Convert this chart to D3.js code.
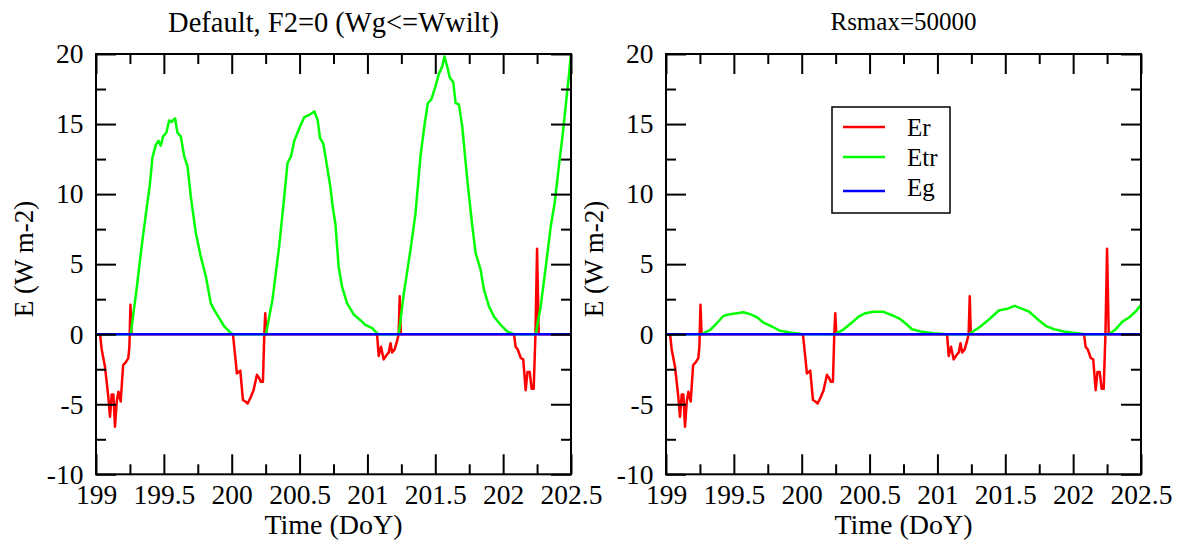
<!DOCTYPE html>
<html>
<head>
<meta charset="utf-8">
<script src="https://cdn.jsdelivr.net/npm/d3@7"></script>
<style>
  body { margin: 0; background: #fff; }
  svg { display: block; }
  text { font-family: "Liberation Serif", "DejaVu Serif", serif; fill: #000; }
</style>
</head>
<body>
<div id="container"></div>
<script>
let w = 1179;
let h = 545;

// ---- data ----
// Er is the same in both runs
let erTime = [199.0, 199.03, 199.042, 199.066, 199.091, 199.103, 199.116, 199.128, 199.14, 199.153, 199.165, 199.182, 199.2, 199.22, 199.238, 199.246, 199.254, 199.262,
  200.009, 200.026, 200.038, 200.05, 200.063, 200.083, 200.1, 200.117, 200.14, 200.161, 200.186, 200.2, 200.215, 200.23, 200.24, 200.247, 200.255,
  201.071, 201.083, 201.1, 201.12, 201.14, 201.157, 201.17, 201.182, 201.2, 201.218, 201.23, 201.238, 201.246,
  202.08, 202.092, 202.108, 202.13, 202.148, 202.166, 202.179, 202.196, 202.21, 202.225, 202.238, 202.25, 202.262, 202.5];
let erValue = [0, 0, -1.1, -2.3, -4.5, -5.9, -4.3, -4.3, -6.6, -4.8, -4.1, -4.8, -2.2, -2.0, -1.7, -0.9, 2.1, 0,
  0, -1.6, -2.8, -2.7, -2.6, -4.7, -4.8, -4.95, -4.5, -4.0, -2.9, -3.1, -3.4, -3.4, 0, 1.5, 0,
  0, -1.55, -0.9, -1.8, -1.5, -1.3, -0.65, -1.3, -1.1, -0.5, 0, 2.7, 0,
  0, -0.9, -1.1, -1.7, -1.8, -4.0, -2.7, -2.7, -3.9, -3.9, 0, 6.1, 0, 0];

// Etr, default run
let etrDefaultTime = [199.0, 199.256, 199.30, 199.342, 199.379, 199.396, 199.416, 199.44, 199.46, 199.477, 199.494, 199.519, 199.539, 199.558, 199.57, 199.583, 199.6, 199.625, 199.65, 199.674, 199.699, 199.736, 199.773, 199.81, 199.846, 199.871, 199.908, 199.945, 199.994, 200.01,
  200.252, 200.30, 200.35, 200.387, 200.411, 200.437, 200.461, 200.498, 200.535, 200.572, 200.609, 200.633, 200.651, 200.675, 200.707, 200.727, 200.744, 200.764, 200.788, 200.813, 200.85, 200.9, 200.948, 200.985, 201.035, 201.07, 201.08,
  201.231, 201.268, 201.317, 201.354, 201.391, 201.421, 201.445, 201.47, 201.502, 201.527, 201.551, 201.568, 201.588, 201.607, 201.632, 201.65, 201.674, 201.699, 201.736, 201.773, 201.797, 201.834, 201.858, 201.895, 201.932, 201.982, 202.031, 202.08,
  202.24, 202.277, 202.314, 202.351, 202.38, 202.412, 202.437, 202.461, 202.486, 202.5];
let etrDefaultValue = [0, 0, 3.3, 6.7, 9.4, 10.6, 12.6, 13.5, 13.8, 13.45, 14.1, 14.4, 15.26, 15.15, 15.3, 15.4, 14.4, 14.1, 12.7, 12.0, 9.8, 7.2, 5.5, 4.1, 2.2, 1.74, 1.14, 0.55, 0.07, 0,
  0, 2.45, 6.3, 9.8, 12.2, 12.7, 13.8, 14.7, 15.5, 15.66, 15.9, 15.3, 14.0, 13.6, 11.7, 10.5, 9.1, 7.9, 4.8, 3.4, 2.2, 1.4, 1.0, 0.66, 0.43, 0.07, 0,
  0, 2.9, 6.0, 8.6, 12.7, 14.95, 16.5, 16.74, 17.7, 18.6, 19.1, 19.83, 19.1, 18.3, 18.0, 16.5, 16.4, 14.8, 11.0, 7.7, 5.8, 4.6, 3.2, 2.0, 1.26, 0.66, 0.19, 0,
  0, 2.0, 4.8, 7.7, 9.4, 12.1, 14.1, 16.3, 18.6, 20.0];

// Etr, Rsmax=50000 run
let etrRsTime = [199.0, 199.263, 199.325, 199.374, 199.423, 199.472, 199.522, 199.57, 199.62, 199.67, 199.718, 199.78, 199.841, 199.915, 200.0,
  200.247, 200.309, 200.37, 200.42, 200.469, 200.53, 200.604, 200.678, 200.727, 200.764, 200.813, 200.875, 200.97, 201.07,
  201.231, 201.317, 201.39, 201.452, 201.514, 201.568, 201.625, 201.674, 201.736, 201.797, 201.858, 201.932, 202.03, 202.09,
  202.264, 202.314, 202.363, 202.412, 202.461, 202.5];
let etrRsValue = [0, 0, 0.3, 0.78, 1.3, 1.43, 1.5, 1.57, 1.43, 1.21, 0.83, 0.55, 0.24, 0.12, 0.02,
  0, 0.35, 0.83, 1.26, 1.5, 1.6, 1.6, 1.3, 1.07, 0.78, 0.35, 0.19, 0.07, 0,
  0, 0.55, 1.14, 1.69, 1.81, 2.02, 1.81, 1.62, 1.09, 0.6, 0.36, 0.19, 0.07, 0,
  0, 0.36, 0.9, 1.19, 1.62, 2.1];

// Eg, zero in both runs
let egTime = [199.0, 202.5];
let egValue = [0, 0];

let xMajor = [199, 199.5, 200, 200.5, 201, 201.5, 202, 202.5];
let xMinor = [199.25, 199.75, 200.25, 200.75, 201.25, 201.75, 202.25];
let yMajor = [-10, -5, 0, 5, 10, 15, 20];
let yMinor = [-7.5, -2.5, 2.5, 7.5, 12.5, 17.5];

let seriesNames = ["Er", "Etr", "Eg"];
let seriesColors = ["#ff0000", "#00ff00", "#0000ff"];

let serif = '"Liberation Serif", "DejaVu Serif", serif';

function zip(ts, vs) {
  return ts.map((t, i) => ({t: t, v: vs[i]}));
}

let panels = [
  {title: "Default, F2=0 (Wg<=Wwilt)", titleSize: 28.5, titleY: 32, left: 96, series: [zip(erTime, erValue), zip(etrDefaultTime, etrDefaultValue), zip(egTime, egValue)], legend: false},
  {title: "Rsmax=50000", titleSize: 25, titleY: 30, left: 666, series: [zip(erTime, erValue), zip(etrRsTime, etrRsValue), zip(egTime, egValue)], legend: true}
];

let plotW = 475;
let plotTop = 54;
let plotBottom = 474.3;

let viz = d3.select("#container").append("svg")
    .attr("width", w)
    .attr("height", h)
    .style("background-color", "white");

panels.forEach(function(p) {
  let xScale = d3.scaleLinear().domain([199, 202.5]).range([p.left, p.left + plotW]);
  let yScale = d3.scaleLinear().domain([-10, 20]).range([plotBottom, plotTop]);

  let g = viz.append("g").attr("class", "panel");

  // data lines
  let line = d3.line().x(d => xScale(d.t)).y(d => yScale(d.v));
  p.series.forEach(function(s, i) {
    g.append("path")
      .datum(s)
      .attr("d", line)
      .attr("fill", "none")
      .attr("stroke", seriesColors[i])
      .attr("stroke-width", 2.5)
      .attr("stroke-linejoin", "round");
  });

  // frame
  g.append("rect")
    .attr("x", p.left).attr("y", plotTop)
    .attr("width", plotW).attr("height", plotBottom - plotTop)
    .attr("fill", "none").attr("stroke", "#000").attr("stroke-width", 2);

  // axes, ticks pointing inward on all four sides
  function styleAxis(sel) {
    sel.attr("font-family", null);
    sel.select(".domain").remove();
    sel.selectAll("line").attr("stroke", "#000").attr("stroke-width", 2);
    sel.selectAll("text").style("font-family", serif).style("font-size", "27.5px").attr("fill", "#000");
  }

  g.append("g").attr("transform", "translate(0," + plotBottom + ")")
    .call(d3.axisBottom(xScale).tickValues(xMajor).tickSizeInner(-20).tickSizeOuter(0).tickPadding(10).tickFormat(d => String(d)))
    .call(styleAxis);
  g.append("g").attr("transform", "translate(0," + plotBottom + ")")
    .call(d3.axisBottom(xScale).tickValues(xMinor).tickSizeInner(-10).tickSizeOuter(0).tickFormat(""))
    .call(styleAxis);
  g.append("g").attr("transform", "translate(0," + plotTop + ")")
    .call(d3.axisTop(xScale).tickValues(xMajor).tickSizeInner(-20).tickSizeOuter(0).tickFormat(""))
    .call(styleAxis);
  g.append("g").attr("transform", "translate(0," + plotTop + ")")
    .call(d3.axisTop(xScale).tickValues(xMinor).tickSizeInner(-10).tickSizeOuter(0).tickFormat(""))
    .call(styleAxis);

  g.append("g").attr("transform", "translate(" + p.left + ",0)")
    .call(d3.axisLeft(yScale).tickValues(yMajor).tickSizeInner(-20).tickSizeOuter(0).tickPadding(12.5).tickFormat(d => String(d)))
    .call(styleAxis);
  g.append("g").attr("transform", "translate(" + p.left + ",0)")
    .call(d3.axisLeft(yScale).tickValues(yMinor).tickSizeInner(-10).tickSizeOuter(0).tickFormat(""))
    .call(styleAxis);
  g.append("g").attr("transform", "translate(" + (p.left + plotW) + ",0)")
    .call(d3.axisRight(yScale).tickValues(yMajor).tickSizeInner(-20).tickSizeOuter(0).tickFormat(""))
    .call(styleAxis);
  g.append("g").attr("transform", "translate(" + (p.left + plotW) + ",0)")
    .call(d3.axisRight(yScale).tickValues(yMinor).tickSizeInner(-10).tickSizeOuter(0).tickFormat(""))
    .call(styleAxis);

  // titles
  g.append("text")
    .text(p.title)
    .attr("x", p.left + plotW / 2)
    .attr("y", p.titleY)
    .attr("text-anchor", "middle")
    .style("font-family", serif)
    .style("font-size", p.titleSize + "px");

  g.append("text")
    .text("Time (DoY)")
    .attr("x", p.left + plotW / 2)
    .attr("y", 534)
    .attr("text-anchor", "middle")
    .style("font-family", serif)
    .style("font-size", "28px");

  g.append("text")
    .text("E (W m-2)")
    .attr("text-anchor", "middle")
    .attr("transform", "translate(" + (p.left - 63.5) + ",259) rotate(-90)")
    .style("font-family", serif)
    .style("font-size", "27px");

  if (p.legend) {
    let lg = g.append("g").attr("class", "legend");
    let rowY = [127, 157, 191];
    lg.append("rect")
      .attr("x", 832).attr("y", 107)
      .attr("width", 118).attr("height", 106)
      .attr("fill", "#fff").attr("stroke", "#000").attr("stroke-width", 1.5);
    seriesNames.forEach(function(name, i) {
      let yy = rowY[i];
      lg.append("line")
        .attr("x1", 843).attr("x2", 885)
        .attr("y1", yy).attr("y2", yy)
        .attr("stroke", seriesColors[i]).attr("stroke-width", 2.5);
      lg.append("text")
        .text(name)
        .attr("x", 907).attr("y", yy + (i == 2 ? 5 : 9))
        .style("font-family", serif)
        .style("font-size", "25px");
    });
  }
});
</script>
</body>
</html>
